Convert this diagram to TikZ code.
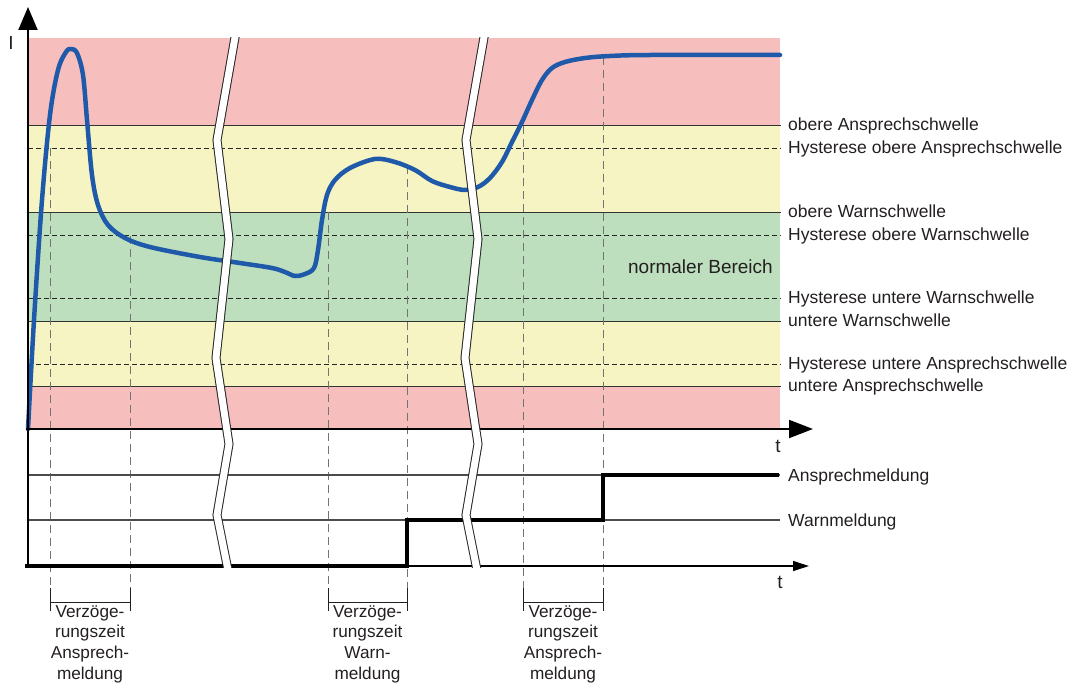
\documentclass[tikz,border=0pt]{standalone}
\usepackage{fontspec}
\setmainfont{Liberation Sans}
\usetikzlibrary{arrows.meta}
\definecolor{bandred}{HTML}{F7BEBE}
\definecolor{bandyellow}{HTML}{F6F4C2}
\definecolor{bandgreen}{HTML}{BEDFBE}
\definecolor{curveblue}{HTML}{1F5AAA}
\definecolor{textgray}{HTML}{231F20}

\begin{document}
\begin{tikzpicture}[x=1pt, y=-1pt,
    lbl/.style={anchor=base west, inner sep=0pt, text=textgray, font=\fontsize{17.5}{20}\selectfont},
    thr/.style={draw=black!80, line width=0.9pt},
    hys/.style={draw=black!85, line width=0.9pt, dash pattern=on 5pt off 3pt},
    delay/.style={draw=black!55, line width=1pt, dash pattern=on 8pt off 5pt},
    brk/.style={line width=9pt, black!85, line join=miter},
    brkin/.style={line width=7pt, white, line join=miter},
    delaytext/.style={anchor=north, align=center, inner sep=0pt, text=textgray, font=\fontsize{17.2}{20.7}\selectfont}]
  \useasboundingbox (0,0) rectangle (1069,685);

  \fill[bandred] (28,38) rectangle (780,125);
  \fill[bandyellow] (28,125) rectangle (780,212);
  \fill[bandgreen] (28,212) rectangle (780,321);
  \fill[bandyellow] (28,321) rectangle (780,386);
  \fill[bandred] (28,386) rectangle (780,429);

  \foreach \y/\txt in {125/obere Ansprechschwelle, 212/obere Warnschwelle,
                       321/untere Warnschwelle, 386/untere Ansprechschwelle} {
    \draw[thr] (28,\y) -- (781,\y);
    \node[lbl] (s\y) at (788,\y+5.5) {\txt};
  }
  \foreach \y/\txt in {148/Hysterese obere Ansprechschwelle, 235/Hysterese obere Warnschwelle,
                       298/Hysterese untere Warnschwelle, 364/Hysterese untere Ansprechschwelle} {
    \draw[hys] (28,\y) -- (781,\y);
    \node[lbl] (h\y) at (788,\y+5.5) {\txt};
  }
  \node[anchor=base east, inner sep=0pt, text=textgray, font=\fontsize{19}{22}\selectfont] (normal) at (773,273) {normaler Bereich};

  \foreach \x/\y in {50/148, 130/236, 328/212, 407/166, 523/126, 603/57}
    \draw[delay] (\x,\y) -- (\x,590);
  \foreach \a/\b/\nm/\txt in {50/130/dA/{Verzöge-\\rungszeit\\Ansprech-\\meldung},
                             328/407/dW/{Verzöge-\\rungszeit\\Warn-\\meldung},
                             523/603/dB/{Verzöge-\\rungszeit\\Ansprech-\\meldung}} {
    \draw[line width=1pt, textgray] (\a,588) -- (\a,611) (\b,588) -- (\b,611) (\a,602) -- (\b,602);
    \node[delaytext] (\nm) at ({(\a+\b)/2},605) {\txt};
  }

  \draw[curveblue, line width=4.5pt, line cap=round, line join=round]
    plot[smooth, tension=0.55] coordinates {(28,429) (34,320) (42,200) (50,115) (58,70) (66,52)
      (71,49) (77,53) (83,75) (87,120) (92,175) (98,205) (108,225) (125,238) (150,247)
      (200,257) (240,263) (272,268) (285,272) (295,276) (305,274) (314,268) (318,250)
      (322,220) (327,195) (335,180) (350,168) (375,159) (395,162) (415,170) (432,181)
      (450,187) (465,190) (478,187) (490,178) (502,162) (512,142) (522,122) (532,100)
      (542,80) (552,68) (565,62) (585,58) (610,56) (650,55) (780,55)};

  \draw[black!70, line width=1.2pt] (28,475) -- (780,475) (28,520) -- (780,520);
  \draw[line width=1.2pt, -{Triangle[length=16pt,width=10pt]}] (28,566) -- (809,566);
  \draw[line width=4pt] (25,566) -- (407,566) -- (407,520) -- (603,520) -- (603,475) -- (779,475);
  \draw[line width=2pt, -{Triangle[length=24pt,width=18pt]}] (26,429) -- (813,429);
  \draw[line width=2pt, -{Triangle[length=23pt,width=19pt]}] (28,567) -- (28,7);

  \begin{scope}
    \clip (0,38) rectangle (1069,567);
    \foreach \dx in {0,249} {
      \draw[brk] ({237+\dx},26) -- ({217+\dx},140) -- ({229+\dx},239) -- ({216+\dx},358)
        -- ({229+\dx},444) -- ({217+\dx},515) -- ({229+\dx},575);
      \draw[brkin] ({237+\dx},26) -- ({217+\dx},140) -- ({229+\dx},239) -- ({216+\dx},358)
        -- ({229+\dx},444) -- ({217+\dx},515) -- ({229+\dx},575);
    }
  \end{scope}

  \node[text=textgray, font=\fontsize{19}{22}\selectfont] (I) at (11,43) {I};
  \node[text=textgray, font=\fontsize{19}{22}\selectfont] (t1) at (778,446) {t};
  \node[text=textgray, font=\fontsize{19}{22}\selectfont] (t2) at (780,582) {t};
  \node[lbl] (ansp) at (788,481) {Ansprechmeldung};
  \node[lbl] (warn) at (788,526) {Warnmeldung};
\end{tikzpicture}
\end{document}
